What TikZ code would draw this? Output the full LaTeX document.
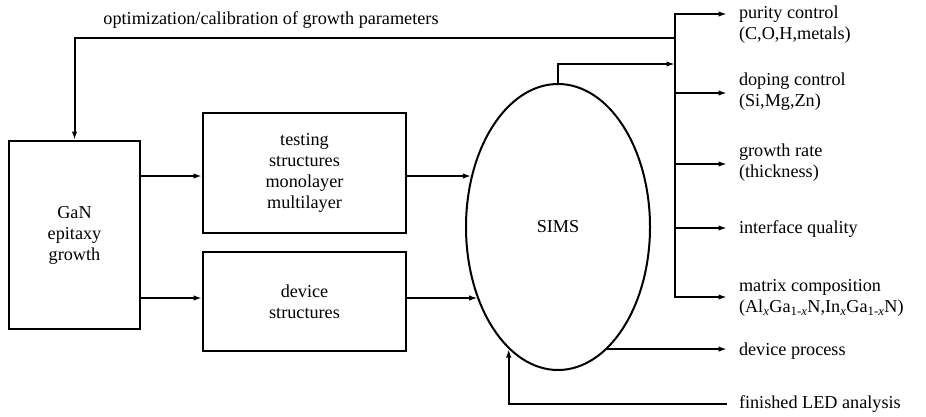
\documentclass[tikz,border=0pt]{standalone}
\usepackage{fontspec}
\setmainfont{Liberation Serif}
\usetikzlibrary{arrows.meta,shapes.geometric}

\begin{document}
\begin{tikzpicture}[x=1pt,y=-1pt,
  line width=2pt,
  arr/.style={-{Latex[length=8.5pt,width=5.5pt]}},
  box/.style={draw,inner sep=0pt,align=center},
  lab/.style={anchor=west,inner sep=0pt,align=left},
  every node/.style={font=\fontsize{18.2}{21}\selectfont}
]
\useasboundingbox (0,0) rectangle (926,416);

% main blocks
\node[box, minimum width=131pt, minimum height=188pt] (gan) at (74.5,235) {GaN\\epitaxy\\growth};
\node[box, minimum width=203pt, minimum height=120pt] (test) at (304.5,173) {testing\\structures\\monolayer\\multilayer};
\node[box, minimum width=203pt, minimum height=99pt] (dev) at (304.5,301.5) {device\\structures};
\node[draw, ellipse, minimum width=184pt, minimum height=286pt, inner sep=0pt] (sims) at (558,227) {SIMS};

% feedback caption
\node (title) at (271,20) {optimization/calibration of growth parameters};

% result labels
\node[lab] (pur) at (738,24.5) {purity control\\(C,O,H,metals)};
\node[lab] (dop) at (738,92) {doping control\\(Si,Mg,Zn)};
\node[lab] (gro) at (738,162.5) {growth rate\\(thickness)};
\node[lab] (intf) at (738,229) {interface quality};
\node[lab] (mat) at (738,298) {matrix composition\\(Al\textsubscript{\textit{x}}Ga\textsubscript{1-\textit{x}}N,In\textsubscript{\textit{x}}Ga\textsubscript{1-\textit{x}}N)};
\node[lab] (devp) at (738,351) {device process};
\node[lab] (led) at (738,404) {finished LED analysis};

% helper points
\coordinate (btop) at (675,14);
\coordinate (fb) at (675,38);
\coordinate (tb) at (675,64);
\coordinate (r1) at (0,176);
\coordinate (r2) at (0,298);
\coordinate (o1) at (727,14);
\coordinate (o2) at (727,93);
\coordinate (o3) at (727,164);
\coordinate (o4) at (727,228);
\coordinate (o5) at (727,297);
\coordinate (o6) at (727,351);
\coordinate (o7) at (727,404);

% growth -> structures -> SIMS
\draw[arr] (gan.east |- r1) -- (test.west |- r1);
\draw[arr] (gan.east |- r2) -- (dev.west |- r2);
\draw[arr] (test.east |- r1) -- (sims.149 |- r1);
\draw[arr] (dev.east |- r2) -- (sims.222 |- r2);

% SIMS results bus
\draw[arr] (sims.north) |- (tb);
\draw[arr] (o5 -| btop) |- (o1);
\draw[arr] (btop) |- (o5);
\draw[arr] (o2 -| btop) -- (o2);
\draw[arr] (o3 -| btop) -- (o3);
\draw[arr] (o4 -| btop) -- (o4);

% feedback to growth
\draw[arr] (fb) -| (gan.north);

% device process and LED analysis
\draw[arr] (sims.292) -- (sims.292 -| o6);
\draw[arr] (o7) -| (sims.248);
\end{tikzpicture}
\end{document}
